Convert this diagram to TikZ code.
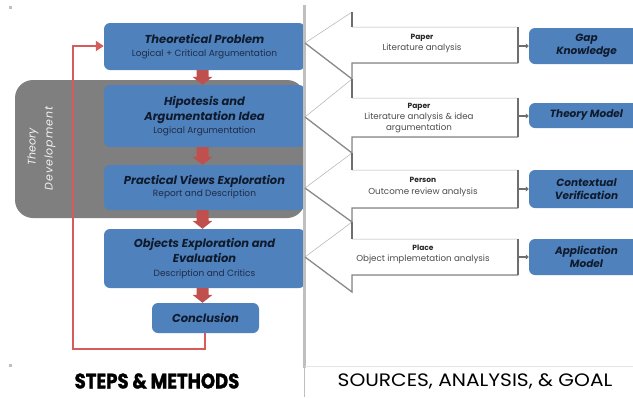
\documentclass[tikz,border=0pt]{standalone}
\usepackage{fontspec}
\setmainfont{Poppins}
\usetikzlibrary{arrows.meta,calc}
\definecolor{boxblue}{HTML}{4F81BD}
\definecolor{tdgray}{HTML}{7F7F7F}
\definecolor{blockred}{HTML}{C0504D}
\definecolor{loopred}{HTML}{D65B5B}
\definecolor{divgray}{HTML}{BFBFBF}
\definecolor{txtdark}{HTML}{0F1B2D}
\definecolor{txtsub}{HTML}{1E2C48}
\definecolor{edgegray}{HTML}{6E6E6E}
\definecolor{tdtextcol}{HTML}{F2F2F2}
\newcommand{\ttl}{\fontsize{11.5}{14}\selectfont\bfseries\itshape\color{txtdark}}
\newcommand{\sbt}{\fontsize{9}{11}\selectfont\color{txtsub}}
\newcommand{\srchead}{\fontsize{7.5}{9}\selectfont\bfseries\color{black!85}}
\tikzset{
  stepbox/.style={draw=none, fill=boxblue, rounded corners=6pt, align=center, inner sep=2pt},
  goalbox/.style={draw=none, fill=boxblue, rounded corners=6pt, align=center, minimum width=115pt, text=txtdark, font=\fontsize{10.5}{13}\selectfont\bfseries\itshape},
  srcarrow/.style={fill=white, draw=gray!60, line width=0.5pt},
  srcedge/.style={draw=edgegray!80, line width=1.3pt},
  srctext/.style={align=center, inner sep=1pt, text=black!70, font=\fontsize{8.7}{10.5}\selectfont},
  blockarr/.style={fill=blockred},
  loopline/.style={draw=loopred, line width=2.2pt},
  goalconn/.style={draw=edgegray, line width=1.6pt, -{Triangle[length=3pt,width=5pt]}},
  tdlabel/.style={rotate=90, inner sep=0pt, text=tdtextcol, font=\fontsize{11}{13}\selectfont\itshape}
}
\begin{document}
\begin{tikzpicture}[x=1pt,y=-1pt]
\useasboundingbox (0,0) rectangle (633,397);
% small marks
\fill[gray!50] (9,6) rectangle (12,9);
\fill[gray!50] (9,364) rectangle (12,367);
% theory development panel
\node[fill=tdgray, rounded corners=18pt, minimum width=290pt, minimum height=138pt, inner sep=0pt] (td) at (160,149) {};
\node[tdlabel] (tdtext1) at (33,147) {\textcolor{tdtextcol}{Theory}};
\node[tdlabel] (tdtext2) at (50,148.5) {\textcolor{tdtextcol}{\addfontfeatures{LetterSpace=9}Development}};
% step boxes
\node[stepbox, minimum width=201pt, minimum height=47pt] (b1) at (204.5,46.5) {{\ttl Theoretical Problem}\\[1pt]{\sbt Logical + Critical Argumentation}};
\node[stepbox, minimum width=201pt, minimum height=62pt] (b2) at (204.5,116) {{\ttl Hipotesis and}\\[2.5pt]{\ttl Argumentation Idea}\\[1pt]{\sbt Logical Argumentation}};
\node[stepbox, minimum width=201pt, minimum height=45pt] (b3) at (204.5,187.5) {{\ttl Practical Views Exploration}\\[0pt]{\sbt Report and Description}};
\node[stepbox, minimum width=201pt, minimum height=59pt] (b4) at (204.5,258.5) {{\ttl Objects Exploration and}\\[2pt]{\ttl Evaluation}\\[1.5pt]{\sbt Description and Critics}};
\node[stepbox, minimum width=107pt, minimum height=30pt] (b5) at (205.5,318) {{\ttl Conclusion}};
% block arrows
\foreach \a/\b in {b1/b2,b2/b3,b3/b4,b4/b5}{
  \fill[blockarr] let \p1=($(\a.south)+(-2,0)$), \p2=(\b.north) in
    (\x1-6pt,\y1) -- (\x1+6pt,\y1) -- (\x1+6pt,\y2+8pt) -- (\x1+10pt,\y2+8pt) -- (\x1,\y2) -- (\x1-10pt,\y2+8pt) -- (\x1-6pt,\y2+8pt) -- cycle;
}
% feedback loop
\coordinate (l1) at (205,349);
\coordinate (l2) at (73,349);
\coordinate (l3) at (73,46);
\draw[loopline, -{Triangle[length=8pt,width=10pt]}] (b5.south -| l1) -- (l1) -- (l2) -- (l3) -- (b1.west |- l3);
% divider
\draw[divgray, line width=3pt] (304,5) -- (304,368);
\draw[divgray, line width=1pt] (304,368) -- (304,397);
\draw[gray!20, line width=0.8pt] (305,366) -- (633,366);
% source arrows
\foreach \t/\h/\b/\hb/\tip in {27/12/63/79/43, 98/79/137/153/117, 170/153/208/222/188, 239/222/275/292/257}{
  \filldraw[srcarrow] (518,\t) -- (352,\t) -- (352,\h) -- (305,\tip) -- (352,\hb) -- (352,\b) -- (518,\b) -- cycle;
  \draw[srcedge] (305,\tip) -- (352,\hb) -- (352,\b) -- (518,\b);
  \draw[edgegray, line width=1.4pt] (352,\h) -- (352,\t);
  \draw[edgegray, line width=1.6pt] (518,\t) -- (518,\b);
}
% source texts
\node[srctext] (s1) at (422,43.5) {{\srchead Paper}\\[1pt]Literature analysis};
\node[srctext] (s2) at (419,118) {{\srchead Paper}\\[1pt]Literature analysis \& idea\\argumentation};
\node[srctext] (s3) at (423,187) {{\srchead Person}\\[1pt]Outcome review analysis};
\node[srctext] (s4) at (423,254.5) {{\srchead Place}\\[0pt]Object implemetation analysis};
% goal boxes
\node[goalbox, minimum height=36pt] (g1) at (586.5,46) {Gap\\Knowledge};
\node[goalbox, minimum height=25pt] (g2) at (586.5,115.5) {Theory Model};
\node[goalbox, minimum height=38pt] (g3) at (586.5,189) {Contextual\\Verification};
\node[goalbox, minimum height=36pt] (g4) at (586.5,257) {Application\\Model};
% connectors from arrows to goals
\coordinate (c1) at (519,46);
\coordinate (c2) at (519,116);
\coordinate (c3) at (519,189);
\coordinate (c4) at (519,257);
\draw[goalconn] (c1) -- (g1.west |- c1);
\draw[goalconn] (c2) -- (g2.west |- c2);
\draw[goalconn] (c3) -- (g3.west |- c3);
\draw[goalconn] (c4) -- (g4.west |- c4);
% bottom titles
\node[font=\fontsize{21}{24}\selectfont\bfseries] (t1) at (157,381) {\scalebox{0.86}[1]{\addfontfeatures{FakeBold=1.5}STEPS \& METHODS}};
\node[font=\fontsize{18}{22}\selectfont] (t2) at (475,381) {\scalebox{1.12}[1]{SOURCES, ANALYSIS, \& GOAL}};
\end{tikzpicture}
\end{document}
